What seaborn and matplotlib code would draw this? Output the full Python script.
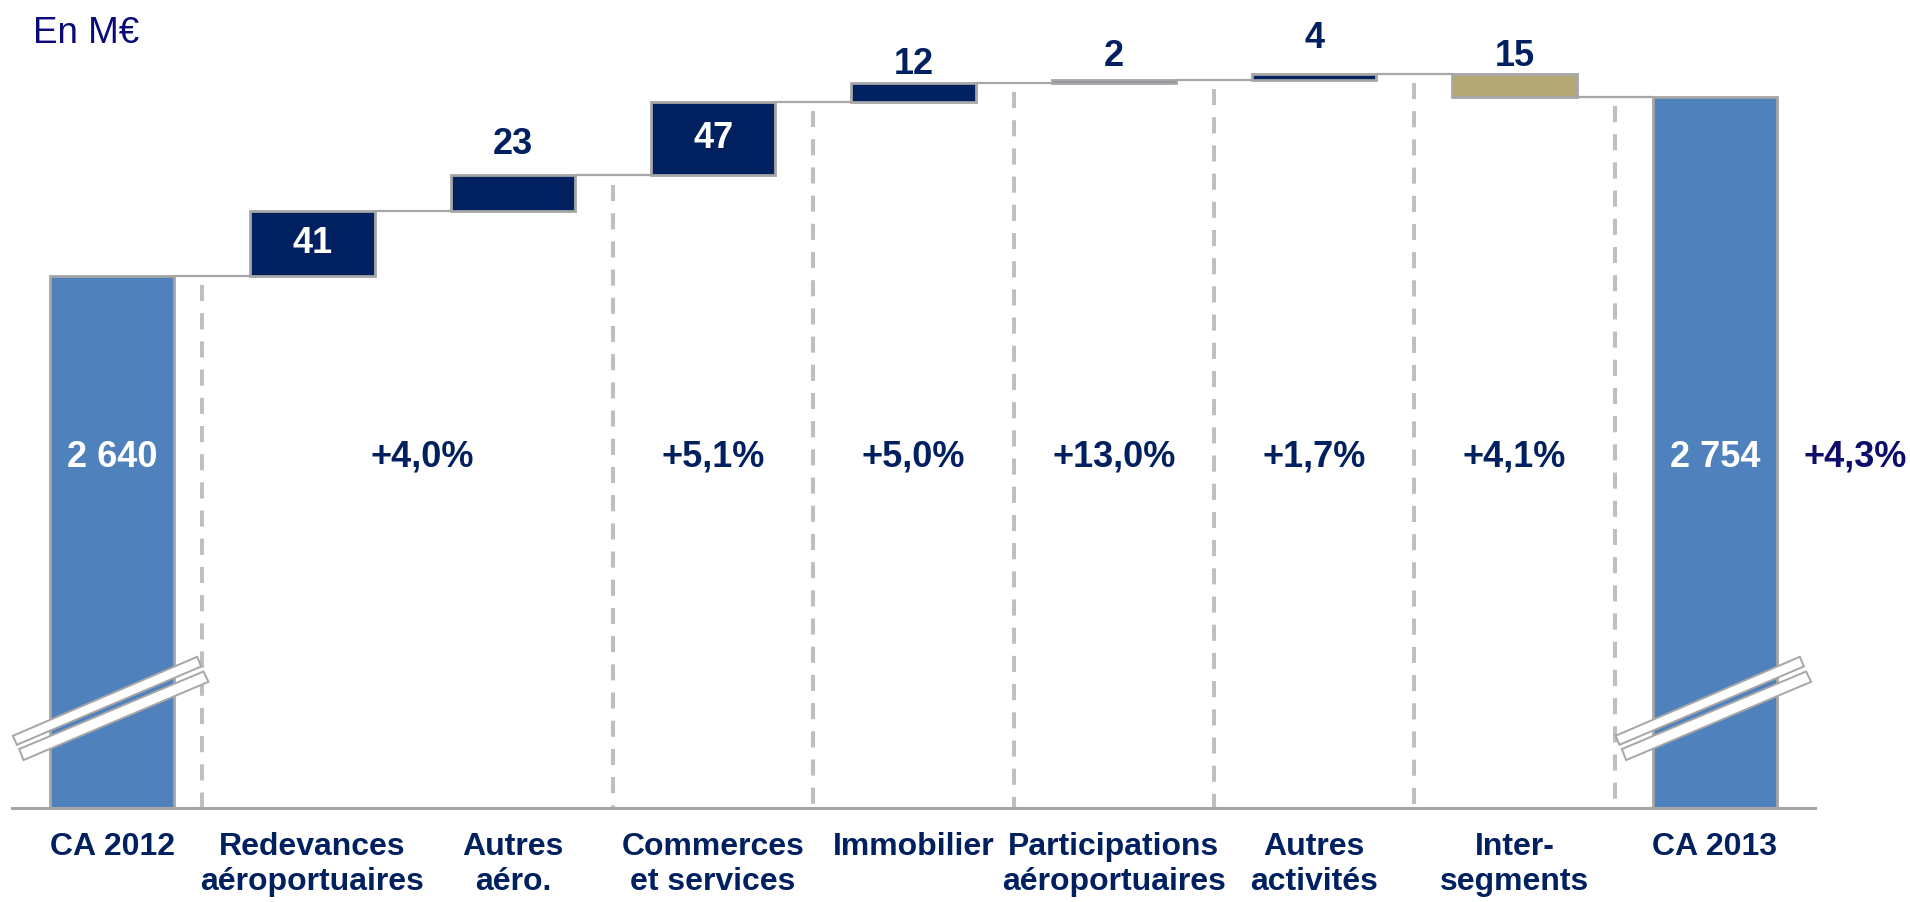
import matplotlib
matplotlib.use("Agg")
import matplotlib.pyplot as plt
import matplotlib.transforms as mtransforms
from matplotlib.patches import Polygon
import seaborn as sns
import pandas as pd
import numpy as np

sns.set_theme(style="white")
plt.rcParams['font.family'] = ['Liberation Sans', 'DejaVu Sans']

# Data
categories = ["CA 2012", "Redevances\naéroportuaires", "Autres\naéro.",
              "Commerces\net services", "Immobilier", "Participations\naéroportuaires",
              "Autres\nactivités", "Inter-\nsegments", "CA 2013"]
ca_values = [2640, 2754]
deltas = [41, 23, 47, 12, 2, 4, -15]
growth_labels = ["+4,0%", "+5,1%", "+5,0%", "+13,0%", "+1,7%", "+4,1%", "+4,3%"]

# Colours
NAVY = '#002060'
CA_BLUE = '#4F81BD'
KHAKI = '#B3A774'
EDGE = '#A6A6A6'
DASH = '#BFBFBF'

# layout (not data)
growth_x = [1.55, 3, 4, 5, 6, 7, 8.7]
sep_x = [0.45, 2.5, 3.5, 4.5, 5.5, 6.5, 7.5]
label_offsets = [0, 22, 0, 13, 17, 25, 12]   # points above bar top (label centre)
BAR_W = 0.62
Y_MIN, Y_MAX = 2300, 2816

fig = plt.figure(figsize=(19.1, 9.02), dpi=100)
ax = fig.add_axes([12 / 1910, 94 / 902, 1803 / 1910, 808 / 902])

# totals with seaborn
totals = pd.DataFrame({"cat": [categories[0], categories[-1]], "value": ca_values})
sns.barplot(data=totals, x="cat", y="value", order=categories, color=CA_BLUE,
            saturation=1, width=BAR_W, edgecolor=EDGE, linewidth=2.0, ax=ax, zorder=3)

# steps
starts = ca_values[0] + np.concatenate([[0], np.cumsum(deltas)[:-1]])
ends = ca_values[0] + np.cumsum(deltas)
step_x = np.arange(1, len(deltas) + 1)
colors = [NAVY] * (len(deltas) - 1) + [KHAKI]
ax.bar(step_x, deltas, bottom=starts, width=BAR_W, color=colors,
       edgecolor=EDGE, linewidth=2.0, zorder=3)

# connectors
levels = [ca_values[0]] + list(ends)
for i, lvl in enumerate(levels):
    ax.plot([i + BAR_W / 2, i + 1 - BAR_W / 2], [lvl, lvl], color=EDGE, lw=1.6, zorder=2)

# dashed separators (drawn top-down so a dash starts at the top)
for sx in sep_x:
    lvl = levels[int(np.floor(sx))]
    ax.plot([sx, sx], [lvl - 6, Y_MIN], color=DASH, lw=2.9,
            linestyle=(0, (4, 3)), zorder=1)

# value labels for steps
for i, d in enumerate(deltas):
    x = step_x[i]
    top = max(starts[i], ends[i])
    if abs(d) >= 30:
        ax.text(x, (starts[i] + ends[i]) / 2, str(abs(d)), ha='center', va='center',
                color='white', fontsize=26, fontweight='bold', zorder=5)
    else:
        ax.annotate(str(abs(d)), (x, top), xytext=(0, label_offsets[i]),
                    textcoords='offset points', ha='center', va='center',
                    color=NAVY, fontsize=26, fontweight='bold', zorder=5,
                    annotation_clip=False)

# totals labels
for x, v in zip([0, len(categories) - 1], ca_values):
    ax.text(x, 2524, f"{v:,}".replace(",", " "), ha='center', va='center',
            color='white', fontsize=26, fontweight='bold', zorder=5)

# growth labels
for x, g in zip(growth_x, growth_labels):
    c = '#0d0d6b' if x > 8 else NAVY
    ax.text(x, 2524, g, ha='center', va='center', color=c, fontsize=26,
            fontweight='bold', clip_on=False, zorder=5)

# axis break marks
upper = np.array([(-0.993, -0.28), (0.85, 0.51), (0.89, 0.413), (-0.953, -0.37)])
lower = np.array([(-0.93, -0.413), (0.913, 0.363), (0.963, 0.26), (-0.887, -0.523)])
for bx in [0, len(categories) - 1]:
    tr = fig.dpi_scale_trans + mtransforms.ScaledTranslation(bx, 2364, ax.transData)
    for shape in (upper, lower):
        ax.add_patch(Polygon(shape, closed=True, facecolor='white', edgecolor=EDGE,
                             lw=1.4, transform=tr, clip_on=False, zorder=6))

ax.set_ylim(Y_MIN, Y_MAX)
ax.set_xlim(-0.5, len(categories) - 0.5)
ax.set_xticks(range(len(categories)))
ax.set_xticklabels(categories, fontsize=23, fontweight='bold', color=NAVY,
                   linespacing=1.25)
ax.tick_params(axis='x', length=0, pad=17)
ax.set_yticks([])
ax.set_xlabel("")
ax.set_ylabel("")
for s in ['top', 'right', 'left']:
    ax.spines[s].set_visible(False)
ax.spines['bottom'].set_color(EDGE)
ax.spines['bottom'].set_linewidth(2.2)
ax.spines['bottom'].set_zorder(4)

fig.text(33 / 1910, 1 - 43 / 902, "En M€", fontsize=26.5, color='#0a0a78',
         ha='left', va='baseline')

fig.savefig("out.png", dpi=100)
